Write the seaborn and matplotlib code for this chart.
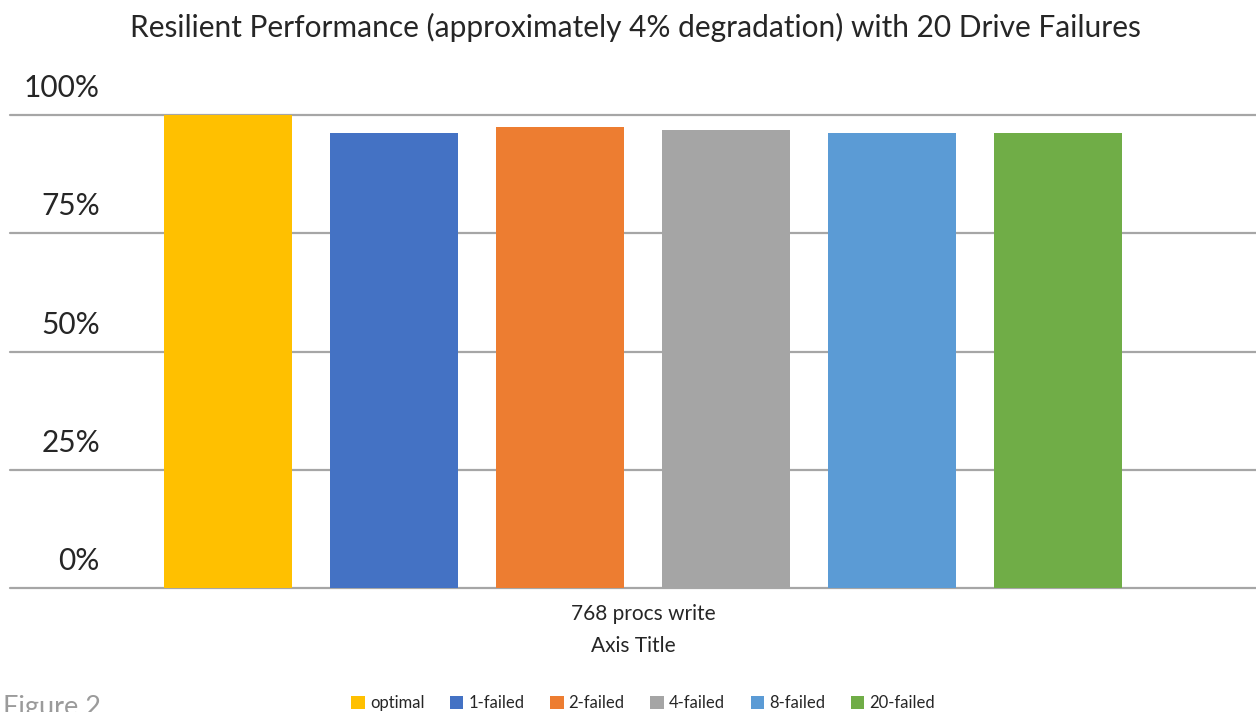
import pandas as pd
import seaborn as sns
import matplotlib.pyplot as plt
import matplotlib.transforms as mtransforms

# values (percent of optimal)
category = ["768 procs write"]
series = ["optimal", "1-failed", "2-failed", "4-failed", "8-failed", "20-failed"]
values = [100.0, 96.2, 97.5, 96.8, 96.2, 96.2]
colors = ["#FFC000", "#4472C4", "#ED7D31", "#A5A5A5", "#5B9BD5", "#70AD47"]
yticks = [0, 25, 50, 75, 100]
ytick_labels = ["0%", "25%", "50%", "75%", "100%"]

data = pd.DataFrame({"Test": category * len(series), "Series": series, "Value": values})

sns.set_style("white")
plt.rcParams["font.family"] = ["Lato", "DejaVu Sans"]

fig = plt.figure(figsize=(12.56, 7.12), dpi=100)
ax = fig.add_axes([10 / 1256, 124 / 712, 1246 / 1256, 473 / 712])

sns.barplot(data=data, x="Test", y="Value", hue="Series", palette=colors,
            width=0.8, gap=0.229, saturation=1, linewidth=0, ax=ax, zorder=3)

ax.set_ylim(0, 100)
ax.set_xlim(-0.5085, 0.4925)
ax.set_yticks(yticks)
ax.set_yticklabels([])
ax.tick_params(left=False, bottom=False)
ax.yaxis.grid(True, color="#A6A6A6", linewidth=1.6)
ax.set_axisbelow(True)
for gl in ax.get_ygridlines():
    gl.set_clip_on(False)
for s in ax.spines.values():
    s.set_visible(False)

# y labels sit above their gridlines, like the original
trans = mtransforms.blended_transform_factory(ax.transAxes, ax.transData)
trans = trans + mtransforms.ScaledTranslation(0, 27 / 100, fig.dpi_scale_trans)
for v, lab in zip(yticks, ytick_labels):
    ax.text(0.0722, v, lab, transform=trans, ha="right", va="center", fontsize=21.5)

ax.set_xticks([0])
ax.set_xticklabels(category, fontsize=15)
ax.tick_params(axis="x", pad=8)
ax.set_xlabel("Axis Title", fontsize=15, labelpad=9)
ax.set_ylabel("")

handles, labels = ax.get_legend_handles_labels()
ax.legend_.remove()
fig.legend(handles, labels, loc="center", bbox_to_anchor=(0.512, 0.012), ncol=6,
           frameon=False, fontsize=12, handlelength=0.8, handleheight=0.8,
           handletextpad=0.3, columnspacing=1.55)

fig.text(0.5056, 1 - 27 / 712, "Resilient Performance (approximately 4% degradation) with 20 Drive Failures",
         ha="center", va="center", fontsize=21.5)
fig.text(3 / 1256, -3 / 712, "Figure 2", ha="left", va="baseline", fontsize=19.5, color="#9B9B9B")

fig.savefig("out.png", dpi=100)
